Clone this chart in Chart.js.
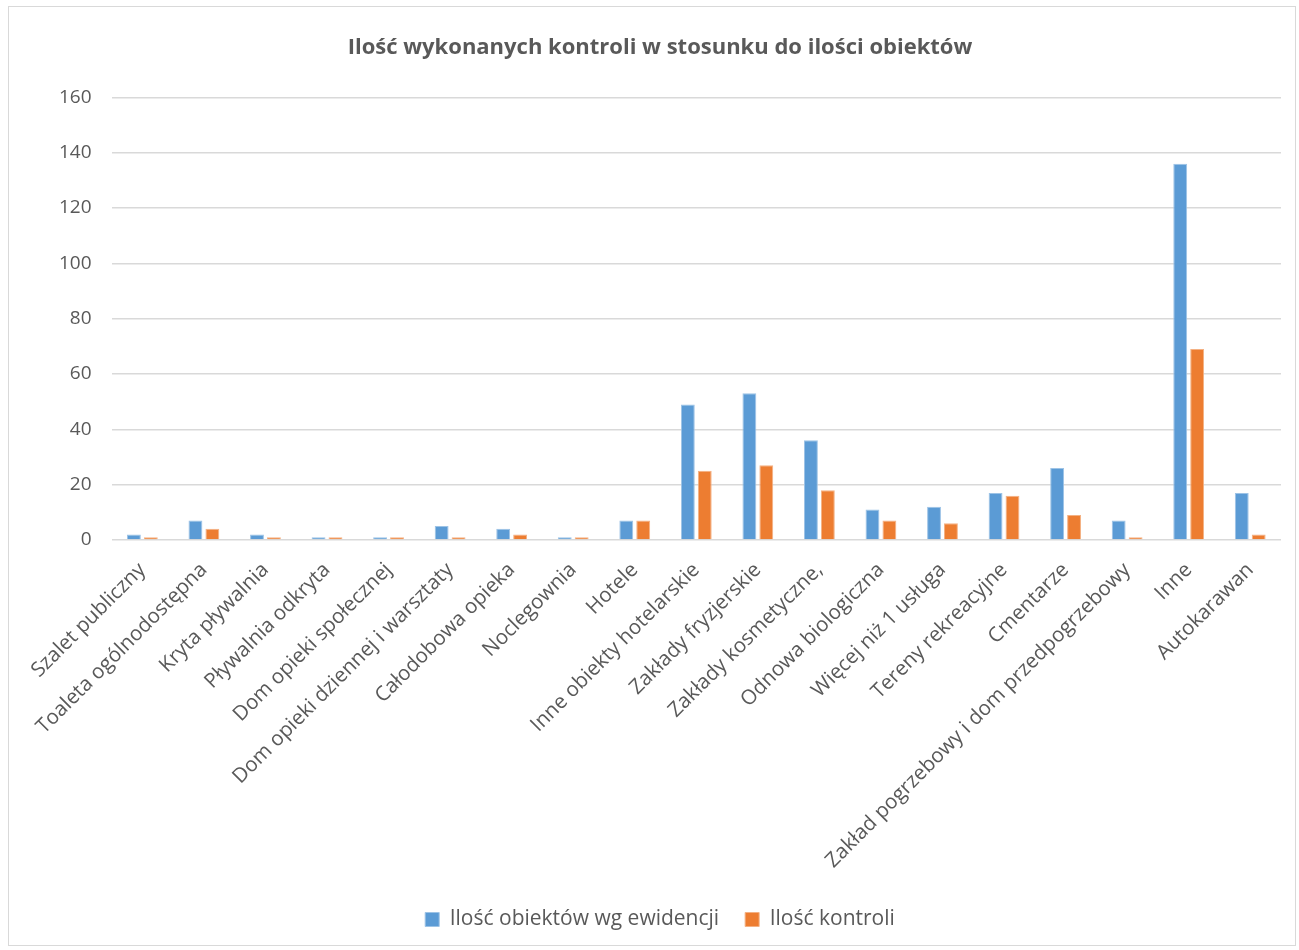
<!DOCTYPE html>
<html>
<head>
<meta charset="utf-8">
<script src="https://cdn.jsdelivr.net/npm/chart.js@4/dist/chart.umd.min.js"></script>
<style>
  html, body { margin: 0; padding: 0; background: #fff; }
  #wrap { position: absolute; left: 8px; top: 6px; width: 1288px; height: 940px;
          border: 1px solid #d9d9d9; box-sizing: border-box; }
  canvas { display: block; }
</style>
</head>
<body>
<div id="wrap"><canvas id="chart"></canvas></div>
<script>
// dane
const kategorie = [
  "Szalet publiczny", "Toaleta ogólnodostępna", "Kryta pływalnia", "Pływalnia odkryta",
  "Dom opieki społecznej", "Dom opieki dziennej i warsztaty", "Całodobowa opieka",
  "Noclegownia", "Hotele", "Inne obiekty hotelarskie", "Zakłady fryzjerskie",
  "Zakłady kosmetyczne,", "Odnowa biologiczna", "Więcej niż 1 usługa",
  "Tereny rekreacyjne", "Cmentarze", "Zakład pogrzebowy i dom przedpogrzebowy",
  "Inne", "Autokarawan"
];
const iloscObiektow = [2, 7, 2, 1, 1, 5, 4, 1, 7, 49, 53, 36, 11, 12, 17, 26, 7, 136, 17];
const iloscKontroli = [1, 4, 1, 1, 1, 1, 2, 1, 7, 25, 27, 18, 7, 6, 16, 9, 1, 69, 2];
const yTicks = [0, 20, 40, 60, 80, 100, 120, 140, 160];

const FONT = "'Open Sans', 'Noto Sans', sans-serif";
const SZARY = '#595959';

new Chart(document.getElementById('chart'), {
  type: 'bar',
  data: {
    labels: kategorie,
    datasets: [
      {
        label: 'Ilość obiektów wg ewidencji',
        data: iloscObiektow,
        backgroundColor: '#5b9bd5',
        borderColor: '#9dc3e6',
        borderWidth: 1,
        categoryPercentage: 0.55,
        barPercentage: 0.82
      },
      {
        label: 'Ilość kontroli',
        data: iloscKontroli,
        backgroundColor: '#ed7d31',
        borderColor: '#f4b183',
        borderWidth: 1,
        categoryPercentage: 0.55,
        barPercentage: 0.82
      }
    ]
  },
  options: {
    responsive: true,
    maintainAspectRatio: false,
    animation: false,
    layout: { padding: { left: 30, right: 14, top: 28, bottom: 5 } },
    plugins: {
      title: {
        display: true,
        text: 'Ilość wykonanych kontroli w stosunku do ilości obiektów',
        color: SZARY,
        font: { family: FONT, size: 22, weight: 'bold' },
        padding: { top: 0, bottom: 36 }
      },
      legend: {
        position: 'bottom',
        labels: {
          color: SZARY,
          font: { family: FONT, size: 21 },
          boxWidth: 14, boxHeight: 14,
          boxPadding: 4,
          padding: 26
        }
      },
      tooltip: { enabled: false }
    },
    scales: {
      x: {
        grid: { display: false },
        border: { display: false },
        ticks: {
          color: SZARY,
          font: { family: FONT, size: 20.5 },
          minRotation: 45, maxRotation: 45,
          autoSkip: false,
          padding: 10
        }
      },
      y: {
        min: 0, max: 160,
        afterBuildTicks: axis => { axis.ticks = yTicks.map(v => ({ value: v })); },
        grid: { color: '#d9d9d9', lineWidth: 1.5, drawTicks: false },
        border: { display: false },
        ticks: {
          color: SZARY,
          font: { family: FONT, size: 19 },
          padding: 20
        }
      }
    }
  }
});
</script>
</body>
</html>
